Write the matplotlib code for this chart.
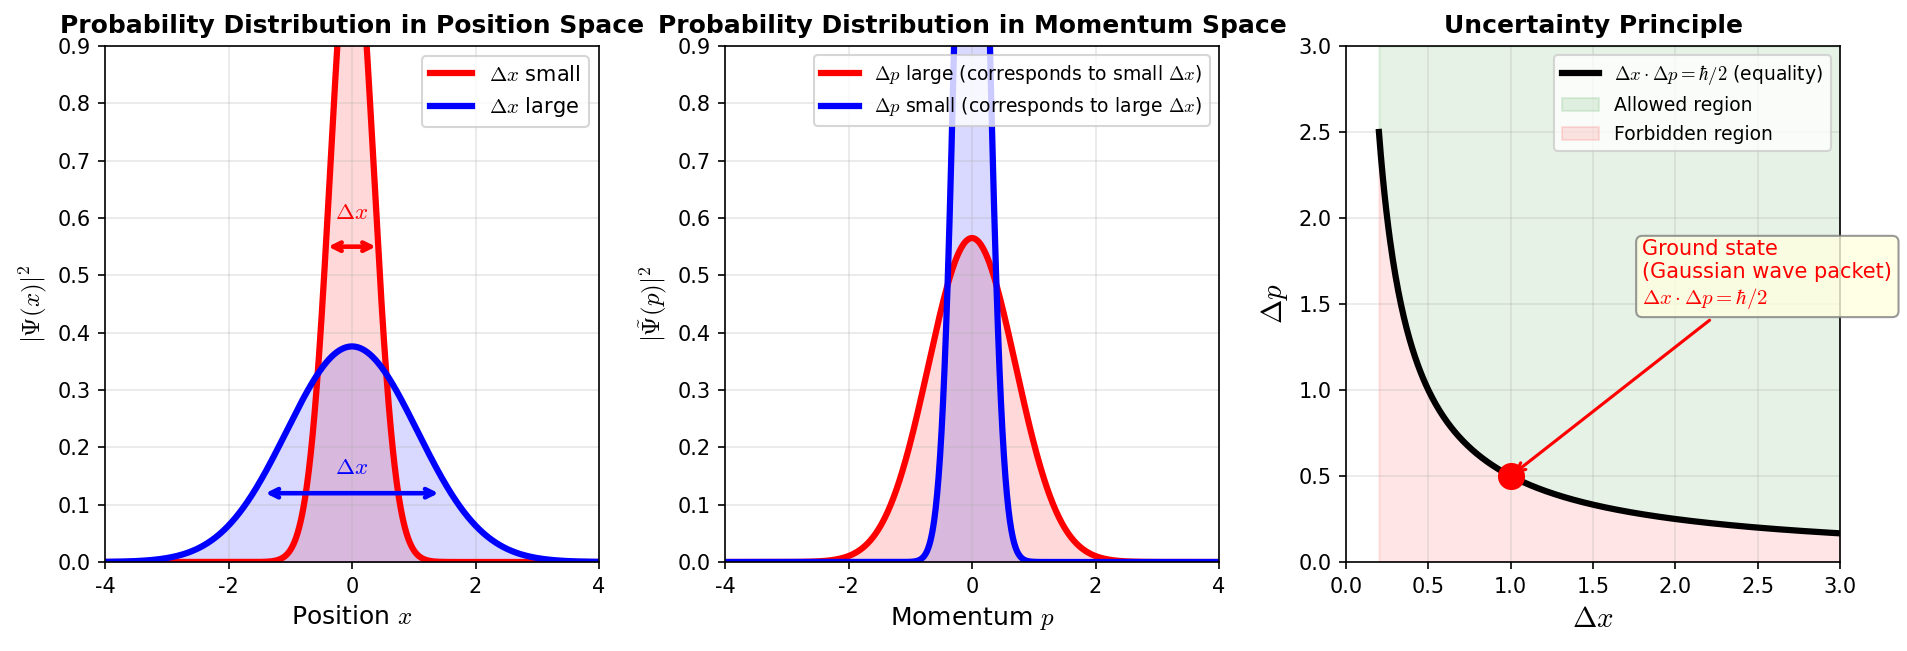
import numpy as np
import matplotlib
matplotlib.use("Agg")
import matplotlib.pyplot as plt

plt.rcParams['axes.unicode_minus'] = False
plt.rcParams['mathtext.fontset'] = 'cm'

# ---- data ----
# Gaussian probability densities: peak height and width parameter (y = A*exp(-(v/s)^2))
pos_labels = [r'$\Delta x$ small', r'$\Delta x$ large']
pos_peaks = [1.128, 0.376]
pos_widths = [0.5, 1.5]
mom_labels = [r'$\Delta p$ large (corresponds to small $\Delta x$)',
              r'$\Delta p$ small (corresponds to large $\Delta x$)']
mom_peaks = [0.565, 1.87]
mom_widths = [1.0, 0.34]
colors = ['red', 'blue']

# width arrows in position panel: (half-width, height)
arrow_halfwidths = [0.385, 1.40]
arrow_heights = [0.55, 0.12]
arrow_label_heights = [0.59, 0.145]

# uncertainty relation
hbar_half = 0.5
dx_min, dx_max = 0.2, 3.0
ground_state = (1.0, 0.5)

pos_ticks = [-4, -2, 0, 2, 4]
prob_yticks = [0.0, 0.1, 0.2, 0.3, 0.4, 0.5, 0.6, 0.7, 0.8, 0.9]
unc_ticks = [0.0, 0.5, 1.0, 1.5, 2.0, 2.5, 3.0]

W, H, DPI = 1907, 651, 150
fig = plt.figure(figsize=(W / DPI, H / DPI), dpi=DPI)

axw = 494 / W
axh = (562 - 46) / H
bottom = 1 - 562 / H
ax1 = fig.add_axes([105 / W, bottom, axw, axh])
ax2 = fig.add_axes([725 / W, bottom, axw, axh])
ax3 = fig.add_axes([1346 / W, bottom, axw, axh])

v = np.linspace(-4, 4, 1000)

# ---- panel 1 ----
for A, s, c, lab in zip(pos_peaks, pos_widths, colors, pos_labels):
    y = A * np.exp(-(v / s) ** 2)
    ax1.plot(v, y, color=c, lw=3, label=lab)
    ax1.fill_between(v, y, color=c, alpha=0.15)
for hw, h, th, c in zip(arrow_halfwidths, arrow_heights, arrow_label_heights, colors):
    ax1.annotate('', xy=(hw, h), xytext=(-hw, h),
                 arrowprops=dict(arrowstyle='<->', color=c, lw=2.2,
                                 shrinkA=0, shrinkB=0))
    ax1.text(0, th, r'$\Delta x$', color=c, fontsize=11, ha='center', va='bottom')
ax1.set_xlim(-4, 4)
ax1.set_ylim(0, 0.9)
ax1.set_xticks(pos_ticks)
ax1.set_xticklabels([str(t) for t in pos_ticks])
ax1.set_yticks(prob_yticks)
ax1.set_xlabel(r'Position $x$', fontsize=12)
ax1.set_ylabel(r'$|\Psi(x)|^2$', fontsize=12)
ax1.set_title('Probability Distribution in Position Space', fontsize=12, fontweight='bold')
ax1.legend(loc='upper right', fontsize=10)
ax1.grid(True, alpha=0.3)

# ---- panel 2 ----
for A, s, c, lab in zip(mom_peaks, mom_widths, colors, mom_labels):
    y = A * np.exp(-(v / s) ** 2)
    ax2.plot(v, y, color=c, lw=3, label=lab)
    ax2.fill_between(v, y, color=c, alpha=0.15)
ax2.set_xlim(-4, 4)
ax2.set_ylim(0, 0.9)
ax2.set_xticks(pos_ticks)
ax2.set_xticklabels([str(t) for t in pos_ticks])
ax2.set_yticks(prob_yticks)
ax2.set_xlabel(r'Momentum $p$', fontsize=12)
ax2.set_ylabel(r'$|\tilde{\Psi}(p)|^2$', fontsize=12)
ax2.set_title('Probability Distribution in Momentum Space', fontsize=12, fontweight='bold')
ax2.legend(loc='upper right', fontsize=9)
ax2.grid(True, alpha=0.3)

# ---- panel 3 ----
dx = np.linspace(dx_min, dx_max, 500)
dp = hbar_half / dx
ax3.plot(dx, dp, color='black', lw=3, label=r'$\Delta x \cdot \Delta p = \hbar/2$ (equality)')
ax3.fill_between(dx, dp, 3.0, color='green', alpha=0.1, label='Allowed region')
ax3.fill_between(dx, 0, dp, color='red', alpha=0.1, label='Forbidden region')
ax3.plot(ground_state[0], ground_state[1], 'o', color='red', markersize=12)
ax3.annotate('Ground state\n(Gaussian wave packet)\n' + r'$\Delta x \cdot \Delta p = \hbar/2$',
             xy=ground_state, xytext=(1.8, 1.46), fontsize=10, color='red',
             ha='left', va='bottom',
             bbox=dict(boxstyle='round,pad=0.3', facecolor='lightyellow',
                       edgecolor='gray', alpha=0.8),
             arrowprops=dict(arrowstyle='->', color='red', lw=1.5))
ax3.set_xlim(0, 3)
ax3.set_ylim(0, 3)
ax3.set_xticks(unc_ticks)
ax3.set_yticks(unc_ticks)
ax3.set_xlabel(r'$\Delta x$', fontsize=14)
ax3.set_ylabel(r'$\Delta p$', fontsize=14)
ax3.set_title('Uncertainty Principle', fontsize=12, fontweight='bold')
ax3.legend(loc='upper right', fontsize=9)
ax3.grid(True, alpha=0.3)

fig.savefig('out.png', dpi=DPI)
